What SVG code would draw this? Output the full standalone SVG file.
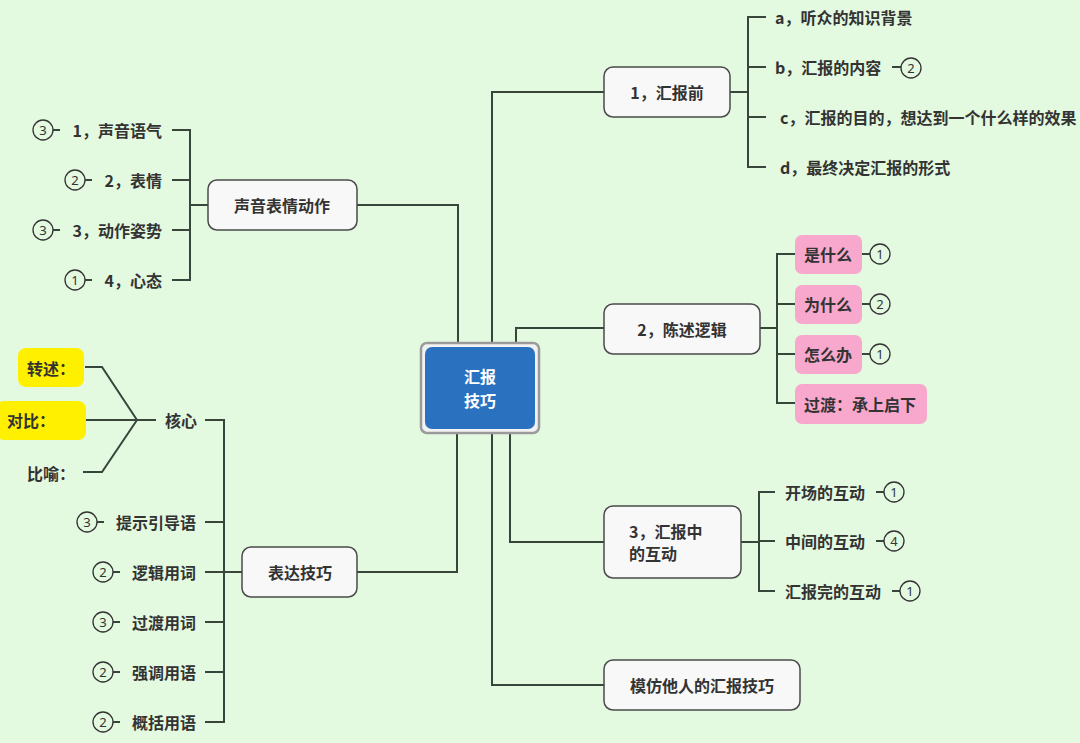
<svg xmlns="http://www.w3.org/2000/svg" width="1080" height="743" viewBox="0 0 1080 743">
<style>
.bg{fill:#e3f9e0}
.ln{stroke:#38453a;stroke-width:2;fill:none}
.nd{fill:#f8f8f8;stroke:#4a4a4a;stroke-width:1.5}
.pk{fill:#f8a8cc}
.yl{fill:#fff000}
.t{font-family:"Noto Sans CJK SC","Noto Sans",sans-serif;font-weight:bold;font-size:16px;fill:#333;dominant-baseline:central}
.tc{text-anchor:middle}
.te{text-anchor:end}
.ct{font-family:"Noto Sans","DejaVu Sans",sans-serif;font-size:13px;fill:#333;text-anchor:middle;dominant-baseline:central}
.cc{fill:none;stroke:#333;stroke-width:1.3}
.wt{fill:#fff;font-size:16px}
</style>
<rect class="bg" x="0" y="0" width="1080" height="743"/>
<g id="connectors">
<path class="ln" d="M492,343 V92 H604"/>
<path class="ln" d="M516,343 V328 H604"/>
<path class="ln" d="M458,343 V205 H357"/>
<path class="ln" d="M457,433 V572 H357"/>
<path class="ln" d="M510,433 V542 H604"/>
<path class="ln" d="M492,433 V685 H604"/>
<path class="ln" d="M730,92 H748 M766,17 H748 V167 H766 M748,67 H766 M748,117 H766"/>
<path class="ln" d="M208,205 H190 M172,130 H190 V280 H172 M190,180 H172 M190,230 H172"/>
<path class="ln" d="M760,328 H777 M795,254 H777 V403 H795 M777,304 H795 M777,354 H795"/>
<path class="ln" d="M741,542 H759 M775,492 H759 V591 H775 M759,541 H775"/>
<path class="ln" d="M242,572 H224 M205,420 H224 V722 H205 M224,522 H205 M224,572 H205 M224,622 H205 M224,672 H205"/>
<path class="ln" d="M156,420 H137 M137,420 L102,367 H85 M137,420 H85 M137,420 L102,472 H83"/>
</g>
<g id="center">
<rect x="421" y="343" width="118" height="90" rx="6" fill="#f2f2f2" stroke="#9a9a9a" stroke-width="2.5"/>
<rect x="425" y="347" width="110" height="82" rx="7" fill="#2a72c0"/>
<text class="t tc wt" x="480" y="376">汇报</text>
<text class="t tc wt" x="480" y="400">技巧</text>
</g>
<g id="n-before">
<rect class="nd" x="604" y="67" width="126" height="50" rx="9"/>
<text class="t tc" x="667" y="92">1，汇报前</text>
</g>
<g id="n-a"><text class="t" x="775" y="17">a，听众的知识背景</text></g>
<g id="n-b"><text class="t" x="775" y="67">b，汇报的内容</text>
<path class="ln" d="M892,67 H901" stroke-width="1.3"/><circle class="cc" cx="911" cy="68" r="10"/><text class="ct" x="911" y="68">2</text></g>
<g id="n-c"><text class="t" x="780" y="117">c，汇报的目的，想达到一个什么样的效果</text></g>
<g id="n-d"><text class="t" x="780" y="167">d，最终决定汇报的形式</text></g>

<g id="n-voice">
<rect class="nd" x="208" y="180" width="149" height="50" rx="9"/>
<text class="t tc" x="282" y="205">声音表情动作</text>
</g>
<g id="n-v1"><text class="t te" x="162" y="130">1，声音语气</text>
<path class="ln" d="M53,130 H60" stroke-width="1.3"/><circle class="cc" cx="43" cy="130" r="10"/><text class="ct" x="43" y="130">3</text></g>
<g id="n-v2"><text class="t te" x="162" y="180">2，表情</text>
<path class="ln" d="M85,180 H92" stroke-width="1.3"/><circle class="cc" cx="75" cy="180" r="10"/><text class="ct" x="75" y="180">2</text></g>
<g id="n-v3"><text class="t te" x="162" y="230">3，动作姿势</text>
<path class="ln" d="M53,230 H60" stroke-width="1.3"/><circle class="cc" cx="43" cy="230" r="10"/><text class="ct" x="43" y="230">3</text></g>
<g id="n-v4"><text class="t te" x="162" y="280">4，心态</text>
<path class="ln" d="M85,280 H92" stroke-width="1.3"/><circle class="cc" cx="75" cy="280" r="10"/><text class="ct" x="75" y="280">1</text></g>

<g id="n-logic">
<rect class="nd" x="604" y="304" width="156" height="50" rx="9"/>
<text class="t tc" x="682" y="329">2，陈述逻辑</text>
</g>
<g id="n-what"><rect class="pk" x="795" y="235" width="67" height="39" rx="7"/><text class="t" x="804" y="254">是什么</text>
<path class="ln" d="M862,254 H870" stroke-width="1.3"/><circle class="cc" cx="880" cy="254" r="10"/><text class="ct" x="880" y="254">1</text></g>
<g id="n-why"><rect class="pk" x="795" y="285" width="67" height="39" rx="7"/><text class="t" x="804" y="304">为什么</text>
<path class="ln" d="M862,304 H870" stroke-width="1.3"/><circle class="cc" cx="880" cy="304" r="10"/><text class="ct" x="880" y="304">2</text></g>
<g id="n-how"><rect class="pk" x="795" y="335" width="67" height="39" rx="7"/><text class="t" x="804" y="354">怎么办</text>
<path class="ln" d="M862,354 H870" stroke-width="1.3"/><circle class="cc" cx="880" cy="354" r="10"/><text class="ct" x="880" y="354">1</text></g>
<g id="n-trans"><rect class="pk" x="795" y="384" width="132" height="40" rx="7"/><text class="t" x="804" y="404">过渡：承上启下</text></g>

<g id="n-during">
<rect class="nd" x="604" y="506" width="137" height="72" rx="9"/>
<text class="t" x="629" y="531">3，汇报中</text>
<text class="t" x="629" y="553">的互动</text>
</g>
<g id="n-i1"><text class="t" x="785" y="492">开场的互动</text>
<path class="ln" d="M876,492 H884" stroke-width="1.3"/><circle class="cc" cx="894" cy="492" r="10"/><text class="ct" x="894" y="492">1</text></g>
<g id="n-i2"><text class="t" x="785" y="541">中间的互动</text>
<path class="ln" d="M876,541 H884" stroke-width="1.3"/><circle class="cc" cx="894" cy="541" r="10"/><text class="ct" x="894" y="541">4</text></g>
<g id="n-i3"><text class="t" x="785" y="591">汇报完的互动</text>
<path class="ln" d="M892,591 H900" stroke-width="1.3"/><circle class="cc" cx="910" cy="591" r="10"/><text class="ct" x="910" y="591">1</text></g>

<g id="n-imitate">
<rect class="nd" x="604" y="660" width="196" height="50" rx="9"/>
<text class="t tc" x="702" y="685">模仿他人的汇报技巧</text>
</g>

<g id="n-express">
<rect class="nd" x="242" y="547" width="115" height="50" rx="9"/>
<text class="t tc" x="300" y="572">表达技巧</text>
</g>
<g id="n-core"><text class="t" x="165" y="420">核心</text></g>
<g id="n-restate"><rect class="yl" x="18" y="348" width="66" height="39" rx="8"/><text class="t" x="27" y="368">转述：</text></g>
<g id="n-contrast"><rect class="yl" x="-4" y="401" width="90" height="39" rx="8"/><text class="t" x="7" y="420">对比：</text></g>
<g id="n-metaphor"><text class="t" x="27" y="473">比喻：</text></g>
<g id="n-e1"><text class="t te" x="196" y="522">提示引导语</text>
<path class="ln" d="M97,522 H104" stroke-width="1.3"/><circle class="cc" cx="87" cy="522" r="10"/><text class="ct" x="87" y="522">3</text></g>
<g id="n-e2"><text class="t te" x="196" y="572">逻辑用词</text>
<path class="ln" d="M113,572 H120" stroke-width="1.3"/><circle class="cc" cx="103" cy="572" r="10"/><text class="ct" x="103" y="572">2</text></g>
<g id="n-e3"><text class="t te" x="196" y="622">过渡用词</text>
<path class="ln" d="M113,622 H120" stroke-width="1.3"/><circle class="cc" cx="103" cy="622" r="10"/><text class="ct" x="103" y="622">3</text></g>
<g id="n-e4"><text class="t te" x="196" y="672">强调用语</text>
<path class="ln" d="M113,672 H120" stroke-width="1.3"/><circle class="cc" cx="103" cy="672" r="10"/><text class="ct" x="103" y="672">2</text></g>
<g id="n-e5"><text class="t te" x="196" y="722">概括用语</text>
<path class="ln" d="M113,722 H120" stroke-width="1.3"/><circle class="cc" cx="103" cy="722" r="10"/><text class="ct" x="103" y="722">2</text></g>
</svg>
